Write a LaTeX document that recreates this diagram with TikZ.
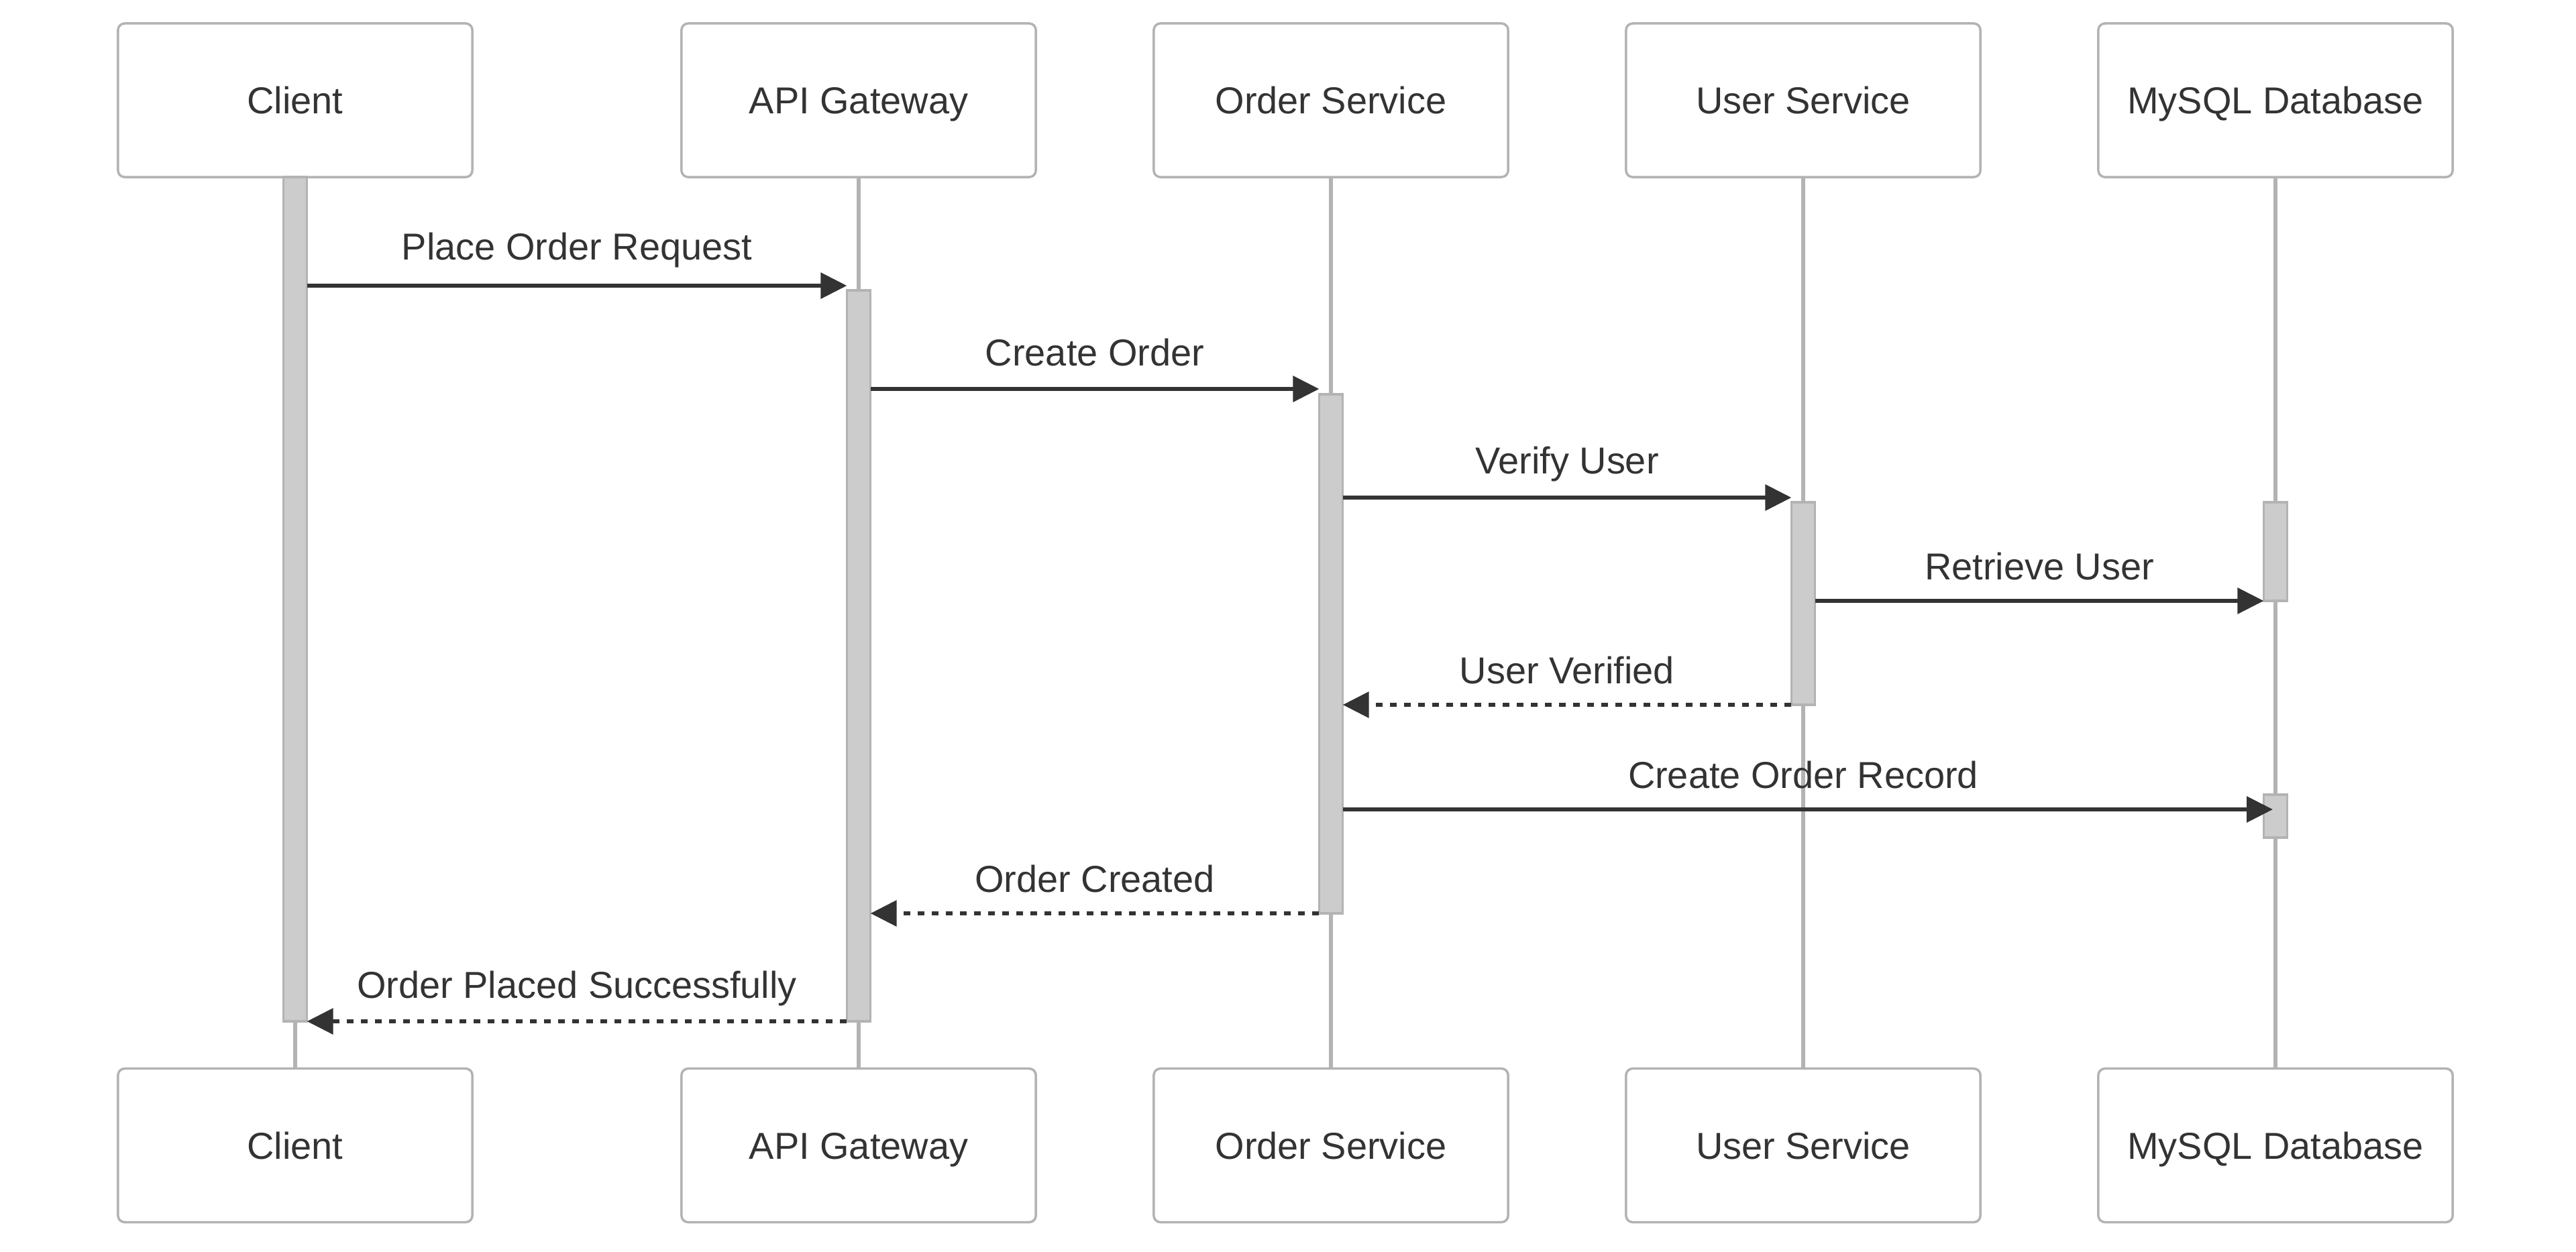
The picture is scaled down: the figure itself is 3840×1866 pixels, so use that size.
\documentclass[tikz,border=0pt]{standalone}
\usepackage{fontspec}
\setmainfont{Liberation Sans}
\usetikzlibrary{arrows.meta}
\definecolor{txt}{HTML}{333333}
\definecolor{edge}{HTML}{B3B3B3}
\definecolor{actfill}{HTML}{CCCCCC}
\begin{document}
\begin{tikzpicture}[x=0.01cm,y=-0.01cm,
  actor/.style={draw=edge,line width=0.035cm,fill=white,rounded corners=0.1cm,
    minimum width=5.28cm,minimum height=2.29cm,inner sep=0pt,text=txt,
    text height=0.40cm,text depth=0cm,
    font=\fontsize{15.9}{19}\selectfont},
  life/.style={draw=edge,line width=0.055cm},
  actbar/.style={draw=edge,fill=actfill,line width=0.035cm},
  msg/.style={draw=txt,line width=0.06cm,-{Triangle[length=0.39cm,width=0.38cm]}},
  reply/.style={msg,dash pattern=on 0.105cm off 0.105cm},
  lbl/.style={text=txt,font=\fontsize{15.9}{19}\selectfont,anchor=base,inner sep=0pt}
]
\useasboundingbox (0,0) rectangle (3840,1866);

% actors top
\node[actor] (cT) at (440,149.5) {Client};
\node[actor] (aT) at (1280,149.5) {API Gateway};
\node[actor] (oT) at (1984,149.5) {Order Service};
\node[actor] (uT) at (2688,149.5) {User Service};
\node[actor] (dT) at (3392,149.5) {MySQL Database};
% actors bottom
\node[actor] (cB) at (440,1708) {Client};
\node[actor] (aB) at (1280,1708) {API Gateway};
\node[actor] (oB) at (1984,1708) {Order Service};
\node[actor] (uB) at (2688,1708) {User Service};
\node[actor] (dB) at (3392,1708) {MySQL Database};

% lifelines
\draw[life] (cT.south) -- (cB.north);
\draw[life] (aT.south) -- (aB.north);
\draw[life] (oT.south) -- (oB.north);
\draw[life] (uT.south) -- (uB.north);
\draw[life] (dT.south) -- (dB.north);

% activation bars
\path[actbar] (422.4,264) rectangle (457.6,1523);
\path[actbar] (1262.4,433) rectangle (1297.6,1523);
\path[actbar] (1966.4,588) rectangle (2001.6,1362);
\path[actbar] (2670.4,749) rectangle (2705.6,1051);
\path[actbar] (3374.4,749) rectangle (3409.6,896);
\path[actbar] (3374.4,1185) rectangle (3409.6,1249);

% message end points
\coordinate (c1) at (457.6,426);  \coordinate (a1) at (1262.4,426);
\coordinate (a2) at (1297.6,580); \coordinate (o2) at (1966.4,580);
\coordinate (o3) at (2001.6,742); \coordinate (u3) at (2670.4,742);
\coordinate (u4) at (2705.6,896); \coordinate (d4) at (3374.4,896);
\coordinate (u5) at (2670.4,1051);\coordinate (o5) at (2001.6,1051);
\coordinate (o6) at (2001.6,1207);\coordinate (d6) at (3388,1207);
\coordinate (o7) at (1966.4,1362);\coordinate (a7) at (1297.6,1362);
\coordinate (a8) at (1262.4,1523);\coordinate (c8) at (457.6,1523);

% messages
\draw[msg] (c1) -- (a1);
\node[lbl] (l1) at (860,387) {Place Order Request};
\draw[msg] (a2) -- (o2);
\node[lbl] (l2) at (1632,545) {Create Order};
\draw[msg] (o3) -- (u3);
\node[lbl] (l3) at (2336,706) {Verify User};
\draw[msg] (u4) -- (d4);
\node[lbl] (l4) at (3040,864) {Retrieve User};
\draw[reply] (u5) -- (o5);
\node[lbl] (l5) at (2336,1019) {User Verified};
\draw[msg] (o6) -- (d6);
\node[lbl] (l6) at (2688,1175) {Create Order Record};
\draw[reply] (o7) -- (a7);
\node[lbl] (l7) at (1632,1330) {Order Created};
\draw[reply] (a8) -- (c8);
\node[lbl] (l8) at (860,1488) {Order Placed Successfully};
\end{tikzpicture}
\end{document}
